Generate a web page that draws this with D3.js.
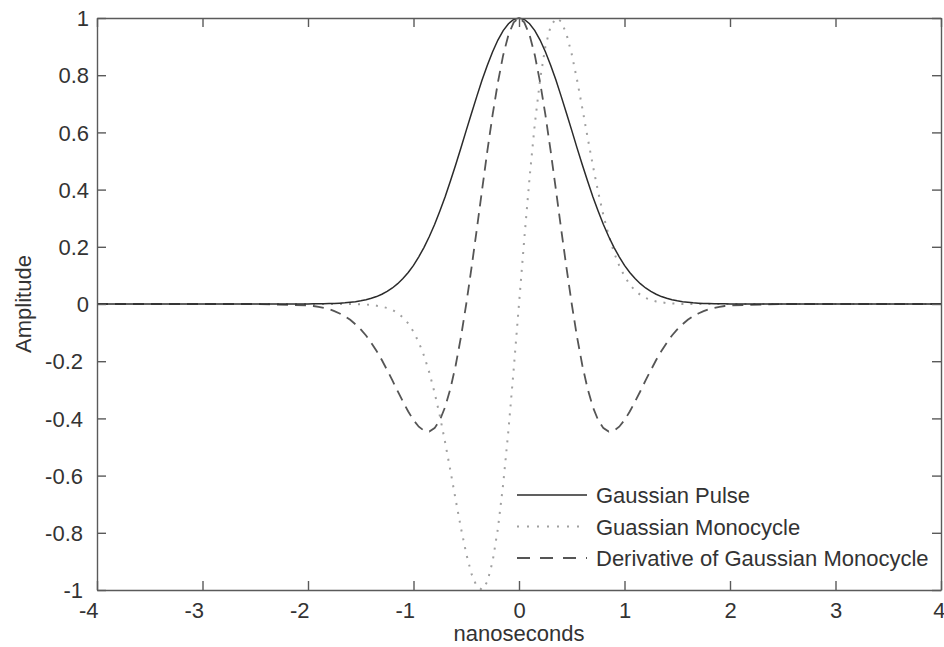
<!doctype html>
<meta charset="utf-8">
<style>
  body { margin: 0; background: #fff; }
  text { font-family: "Liberation Sans", Arial, sans-serif; fill: #333; }
</style>
<body>

<div id="chart"></div>

<script src="https://d3js.org/d3.v7.min.js"></script>
<script>

// time axis samples, nanoseconds
const time = [-4, -3, -2.5,
  -2, -1.95, -1.9, -1.85, -1.8, -1.75, -1.7, -1.65, -1.6, -1.55, -1.5, -1.45, -1.4, -1.35, -1.3, -1.25, -1.2, -1.15, -1.1, -1.05,
  -1, -0.95, -0.9, -0.85, -0.8, -0.75, -0.7, -0.65, -0.6, -0.55, -0.5, -0.45, -0.4, -0.35, -0.3, -0.25, -0.2, -0.15, -0.1, -0.05,
  0,
  0.05, 0.1, 0.15, 0.2, 0.25, 0.3, 0.35, 0.4, 0.45, 0.5, 0.55, 0.6, 0.65, 0.7, 0.75, 0.8, 0.85, 0.9, 0.95, 1,
  1.05, 1.1, 1.15, 1.2, 1.25, 1.3, 1.35, 1.4, 1.45, 1.5, 1.55, 1.6, 1.65, 1.7, 1.75, 1.8, 1.85, 1.9, 1.95, 2,
  2.5, 3, 4]

const gaussianPulse = [0, 0, 0,
  0, 0.001, 0.001, 0.001, 0.002, 0.002, 0.003, 0.004, 0.006, 0.008, 0.011, 0.015, 0.020, 0.026, 0.034, 0.044, 0.056, 0.071, 0.089, 0.110,
  0.135, 0.165, 0.198, 0.236, 0.278, 0.325, 0.375, 0.430, 0.487, 0.546, 0.607, 0.667, 0.726, 0.783, 0.835, 0.882, 0.923, 0.956, 0.980, 0.995,
  1,
  0.995, 0.980, 0.956, 0.923, 0.882, 0.835, 0.783, 0.726, 0.667, 0.607, 0.546, 0.487, 0.430, 0.375, 0.325, 0.278, 0.236, 0.198, 0.165, 0.135,
  0.110, 0.089, 0.071, 0.056, 0.044, 0.034, 0.026, 0.020, 0.015, 0.011, 0.008, 0.006, 0.004, 0.003, 0.002, 0.002, 0.001, 0.001, 0.001, 0,
  0, 0, 0]

const gaussianMonocycle = [0, 0, 0,
  0, 0, 0, 0, 0, 0, 0, 0, 0, 0, -0.001, -0.002, -0.003, -0.006, -0.009, -0.014, -0.021, -0.032, -0.047, -0.068,
  -0.097, -0.134, -0.181, -0.240, -0.310, -0.392, -0.484, -0.583, -0.685, -0.784, -0.873, -0.944, -0.988, -0.999, -0.971, -0.900, -0.785, -0.630, -0.441, -0.227,
  0,
  0.227, 0.441, 0.630, 0.785, 0.900, 0.971, 0.999, 0.988, 0.944, 0.873, 0.784, 0.685, 0.583, 0.484, 0.392, 0.310, 0.240, 0.181, 0.134, 0.097,
  0.068, 0.047, 0.032, 0.021, 0.014, 0.009, 0.006, 0.003, 0.002, 0.001, 0, 0, 0, 0, 0, 0, 0, 0, 0, 0,
  0, 0, 0]

const derivativeMonocycle = [0, 0, 0,
  -0.005, -0.007, -0.010, -0.014, -0.018, -0.025, -0.033, -0.043, -0.055, -0.071, -0.089, -0.110, -0.136, -0.164, -0.196, -0.231, -0.267, -0.305, -0.341, -0.376,
  -0.406, -0.429, -0.443, -0.446, -0.434, -0.406, -0.360, -0.296, -0.214, -0.115, 0, 0.127, 0.261, 0.399, 0.535, 0.662, 0.775, 0.870, 0.941, 0.985,
  1,
  0.985, 0.941, 0.870, 0.775, 0.662, 0.535, 0.399, 0.261, 0.127, 0, -0.115, -0.214, -0.296, -0.360, -0.406, -0.434, -0.446, -0.443, -0.429, -0.406,
  -0.376, -0.341, -0.305, -0.267, -0.231, -0.196, -0.164, -0.136, -0.110, -0.089, -0.071, -0.055, -0.043, -0.033, -0.025, -0.018, -0.014, -0.010, -0.007, -0.005,
  0, 0, 0]

const xTicks = [-4, -3, -2, -1, 0, 1, 2, 3, 4]
const xTickLabels = ["-4", "-3", "-2", "-1", "0", "1", "2", "3", "4"]
const yTicks = [-1, -0.8, -0.6, -0.4, -0.2, 0, 0.2, 0.4, 0.6, 0.8, 1]
const yTickLabels = ["-1", "-0.8", "-0.6", "-0.4", "-0.2", "0", "0.2", "0.4", "0.6", "0.8", "1"]

const seriesNames = ["Gaussian Pulse", "Guassian Monocycle", "Derivative of Gaussian Monocycle"]

function main () {
  const margin = { top: 18, right: 3, bottom: 57, left: 97 }
  const width = 944 - margin.left - margin.right
  const height = 647 - margin.top - margin.bottom
  const fontSize = "22px"

  const svg = d3.select("#chart").append("svg")
    .attr("width", 944)
    .attr("height", 647)

  const g = svg.append("g")
    .attr("transform", "translate(" + margin.left + "," + margin.top + ")")

  const x = d3.scaleLinear().domain([-4, 4]).range([0, width])
  const y = d3.scaleLinear().domain([-1, 1]).range([height, 0])

  const styles = [
    { stroke: "#2b2b2b", width: 1.5, dash: null },
    { stroke: "#a0a0a0", width: 2, dash: "2,7" },
    { stroke: "#555", width: 1.8, dash: "11,7" }
  ]
  const series = [gaussianPulse, gaussianMonocycle, derivativeMonocycle]

  const line = d3.line()
    .x((d, i) => x(time[i]))
    .y(d => y(d))

  // dotted first, then dashed, solid on top
  ;[1, 2, 0].forEach(k => {
    g.append("path")
      .attr("d", line(series[k]))
      .attr("fill", "none")
      .attr("stroke", styles[k].stroke)
      .attr("stroke-width", styles[k].width)
      .attr("stroke-dasharray", styles[k].dash)
  })

  // axes, ticks pointing inward on every side
  const axisColor = "#5a5a5a"
  const xi = d3.scaleOrdinal().domain(xTicks).range(xTickLabels)
  const yi = d3.scaleOrdinal().domain(yTicks).range(yTickLabels)

  const bottom = g.append("g")
    .attr("transform", "translate(0," + height + ")")
    .call(d3.axisBottom(x).tickValues(xTicks).tickSizeInner(-9).tickSizeOuter(0).tickFormat(d => xi(d)))
  bottom.selectAll("text")
    .attr("y", 28).attr("dy", null)
    .attr("text-anchor", d => d < 0 || d === 4 ? "end" : "middle")
    .attr("dx", d => d < 0 ? 1 : (d === 4 ? 4 : 0))

  const left = g.append("g")
    .call(d3.axisLeft(y).tickValues(yTicks).tickSizeInner(-9).tickSizeOuter(0).tickFormat(d => yi(d)))
  left.selectAll("text")
    .attr("x", d => d < 0 ? -14 : -8)
    .attr("dy", "0.35em")

  g.append("g")
    .call(d3.axisTop(x).tickValues(xTicks).tickSizeInner(-9).tickSizeOuter(0).tickFormat(""))
  g.append("g")
    .attr("transform", "translate(" + width + ",0)")
    .call(d3.axisRight(y).tickValues(yTicks).tickSizeInner(-9).tickSizeOuter(0).tickFormat(""))

  svg.selectAll(".domain, .tick line")
    .attr("stroke", axisColor)
    .attr("stroke-width", 1.4)
  svg.selectAll(".tick text")
    .attr("fill", "#333")
    .style("font-size", fontSize)
    .style("font-family", "'Liberation Sans', Arial, sans-serif")

  // axis titles
  svg.append("text")
    .attr("x", margin.left + x(0))
    .attr("y", 641)
    .attr("text-anchor", "middle")
    .style("font-size", fontSize)
    .text("nanoseconds")

  svg.append("text")
    .attr("transform", "translate(31," + (margin.top + y(0)) + ") rotate(-90)")
    .attr("text-anchor", "middle")
    .style("font-size", fontSize)
    .text("Amplitude")

  // legend
  const legend = svg.append("g").attr("transform", "translate(517,495)")
  seriesNames.forEach((name, k) => {
    const row = legend.append("g").attr("transform", "translate(0," + (k * 31.5) + ")")
    row.append("line")
      .attr("x1", 0).attr("x2", 70)
      .attr("stroke", styles[k].stroke)
      .attr("stroke-width", styles[k].width)
      .attr("stroke-dasharray", k === 2 ? "13,10" : (k === 1 ? "2,8" : null))
    row.append("text")
      .attr("x", 79)
      .attr("y", 8)
      .style("font-size", fontSize)
      .text(name)
  })
}

main()

</script>
</body>
